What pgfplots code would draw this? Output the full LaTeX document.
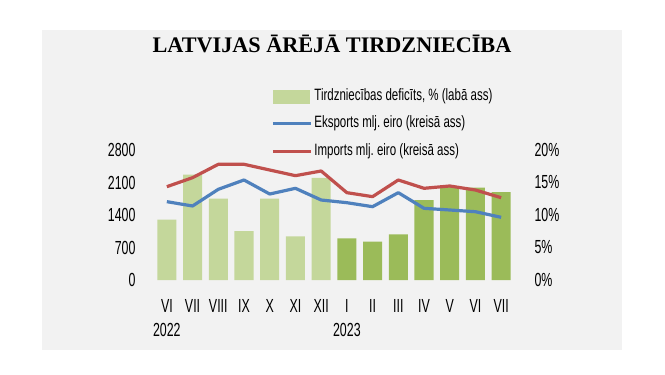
\documentclass[border=0pt]{standalone}
\usepackage{pgfplots}
\pgfplotsset{compat=1.18}
\usepackage{fontspec}
\setmainfont[FakeStretch=0.7]{Liberation Sans}
\newfontfamily\tickfont[FakeStretch=0.655]{Liberation Sans}
\newfontfamily\titlefont{Liberation Serif}
\definecolor{bglight}{HTML}{F2F2F2}
\definecolor{lgreen}{HTML}{C4D79B}
\definecolor{dgreen}{HTML}{9BBB59}
\definecolor{eblue}{HTML}{4F81BD}
\definecolor{ired}{HTML}{C0504D}
\frenchspacing
\begin{document}
\begin{tikzpicture}
\useasboundingbox (0,0) rectangle (665bp,375bp);
\fill[white] (0,0) rectangle (665bp,375bp);
\fill[bglight] (42bp,25bp) rectangle (622bp,345bp);
\node[font=\titlefont\bfseries\fontsize{22.3}{26}\selectfont, anchor=base, inner sep=0pt] at (332bp,322.7bp) {LATVIJAS ĀRĒJĀ TIRDZNIECĪBA};
\pgfplotsset{
  common/.style={
    scale only axis, width=360bp, height=130bp,
    at={(154bp,95bp)}, anchor=south west,
    xmin=-0.5, xmax=13.5,
    axis line style={draw=none},
    major tick length=0pt,
    tick style={draw=none},
    /pgf/number format/assume math mode=true,
    /pgf/number format/1000 sep={},
    ticklabel style={font=\tickfont\fontsize{19}{24}\selectfont},
    clip=false,
  }
}
\begin{axis}[common,
  ymin=0, ymax=20, ytick={0,5,10,15,20},
  yticklabel pos=right,
  yticklabel={\pgfmathprintnumber{\tick}\%},
  yticklabel style={xshift=17bp},
  xtick={0,...,13},
  xticklabels={{VI\\2022},VII,VIII,IX,X,XI,XII,{I\\2023},II,III,IV,V,VI,VII},
  xticklabel style={align=center, yshift=-16bp},
]
\addplot[ybar, bar width=0.74, bar shift=0pt, fill=lgreen, draw=none]
  coordinates {(0,9.3)(1,16.2)(2,12.5)(3,7.5)(4,12.5)(5,6.7)(6,15.7)};
\addplot[ybar, bar width=0.74, bar shift=0pt, fill=dgreen, draw=none]
  coordinates {(7,6.4)(8,5.9)(9,7.0)(10,12.3)(11,14.3)(12,14.2)(13,13.5)};
\end{axis}
\begin{axis}[common,
  ymin=0, ymax=2800, ytick={0,700,1400,2100,2800},
  yticklabel style={xshift=-15bp},
  xtick=\empty,
  legend cell align=left,
  legend style={draw=none, fill=none, at={(0.325,1.492)}, anchor=north west,
    inner sep=0pt, row sep=7.5bp, font=\fontsize{16.5}{20}\selectfont,
    nodes={inner sep=2bp, text height=12bp, text depth=4bp}},
]
\addlegendimage{legend image code/.code={\fill[lgreen] (0bp,-6.5bp) rectangle (36bp,6.5bp);}}
\addplot[eblue, line width=3.2bp, line join=round, mark=none,
  legend image code/.code={\draw[eblue, line width=3.2bp] (0bp,0bp) -- (38bp,0bp);}]
  coordinates {(0,1687)(1,1594)(2,1953)(3,2154)(4,1852)(5,1975)(6,1723)(7,1665)(8,1579)(9,1881)(10,1544)(11,1508)(12,1471)(13,1350)};
\addplot[ired, line width=3.2bp, line join=round, mark=none,
  legend image code/.code={\draw[ired, line width=3.2bp] (0bp,0bp) -- (38bp,0bp);}]
  coordinates {(0,2010)(1,2204)(2,2492)(3,2492)(4,2369)(5,2247)(6,2348)(7,1881)(8,1795)(9,2154)(10,1975)(11,2025)(12,1938)(13,1773)};
\legend{{Tirdzniecības deficīts, \% (labā ass)}, {Eksports mlj. eiro (kreisā ass)}, {Imports mlj. eiro (kreisā ass)}}
\end{axis}
\end{tikzpicture}
\end{document}
